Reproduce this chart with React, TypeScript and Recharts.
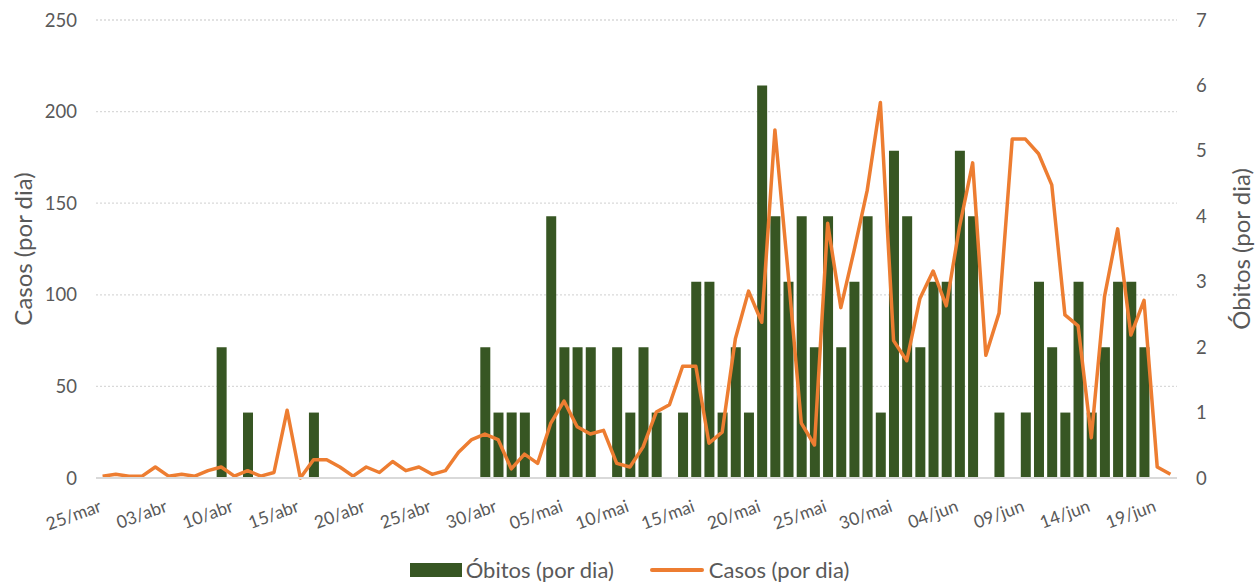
import { Bar, CartesianGrid, ComposedChart, Legend, Line, XAxis, YAxis } from 'recharts';

const dates = [
  '25/mar', '27/mar', '29/mar', '31/mar', '01/abr', '03/abr', '05/abr', '06/abr', '07/abr', '09/abr',
  '10/abr', '11/abr', '12/abr', '13/abr', '14/abr', '15/abr', '16/abr', '17/abr', '18/abr', '19/abr',
  '20/abr', '21/abr', '22/abr', '23/abr', '24/abr', '25/abr', '26/abr', '27/abr', '28/abr', '29/abr',
  '30/abr', '01/mai', '02/mai', '03/mai', '04/mai', '05/mai', '06/mai', '07/mai', '08/mai', '09/mai',
  '10/mai', '11/mai', '12/mai', '13/mai', '14/mai', '15/mai', '16/mai', '17/mai', '18/mai', '19/mai',
  '20/mai', '21/mai', '22/mai', '23/mai', '24/mai', '25/mai', '26/mai', '27/mai', '28/mai', '29/mai',
  '30/mai', '31/mai', '01/jun', '02/jun', '03/jun', '04/jun', '05/jun', '06/jun', '07/jun', '08/jun',
  '09/jun', '10/jun', '11/jun', '12/jun', '13/jun', '14/jun', '15/jun', '16/jun', '17/jun', '18/jun',
  '19/jun', '20/jun'
];

const obitos = [
  0, 0, 0, 0, 0, 0, 0, 0, 0, 2,
  0, 1, 0, 0, 0, 0, 1, 0, 0, 0,
  0, 0, 0, 0, 0, 0, 0, 0, 0, 2,
  1, 1, 1, 0, 4, 2, 2, 2, 0, 2,
  1, 2, 1, 0, 1, 3, 3, 1, 2, 1,
  6, 4, 3, 4, 2, 4, 2, 3, 4, 1,
  5, 4, 2, 3, 3, 5, 4, 0, 1, 0,
  1, 3, 2, 1, 3, 1, 2, 3, 3, 2,
  0, 0
];

const casos = [
  1, 2, 1, 1, 6, 1, 2, 1, 4, 6,
  1, 4, 1, 3, 37, 0, 10, 10, 6, 1,
  6, 3, 9, 4, 6, 2, 4, 14, 21, 24,
  21, 5, 13, 8, 30, 42, 28, 24, 26, 8,
  6, 17, 36, 40, 61, 61, 19, 25, 76, 102,
  85, 190, 112, 30, 18, 139, 93, 124, 157, 205,
  75, 64, 98, 113, 94, 137, 172, 67, 90, 185,
  185, 177, 160, 89, 83, 22, 99, 136, 78, 97,
  6, 2
];

const leftTicks = [0, 50, 100, 150, 200, 250];
const rightTicks = [0, 1, 2, 3, 4, 5, 6, 7];

const GREEN = '#375623';
const ORANGE = '#ED7D31';
const TEXT = '#595959';
const FONT = 'Lato, "Open Sans", sans-serif';

const data = dates.map((date, i) => ({ date, obitos: obitos[i], casos: casos[i] }));

function DateTick({ x, y, payload }: any) {
  return (
    <text
      x={x}
      y={y}
      transform={`rotate(-20 ${x} ${y})`}
      textAnchor='end'
      fill={TEXT}
      fontSize={17.5}
      fontFamily={FONT}
    >
      {payload.value}
    </text>
  );
}

function AxisTitle({ viewBox, value, dx }: any) {
  const cx = viewBox.x + dx;
  const cy = viewBox.y + viewBox.height / 2;
  return (
    <text
      x={cx}
      y={cy}
      transform={`rotate(-90 ${cx} ${cy})`}
      textAnchor='middle'
      dominantBaseline='central'
      fill={TEXT}
      fontSize={24}
      fontFamily={FONT}
    >
      {value}
    </text>
  );
}

function ChartLegend() {
  return (
    <div
      style={{
        display: 'flex',
        justifyContent: 'center',
        alignItems: 'center',
        height: 42,
        paddingTop: 18,
        boxSizing: 'border-box',
        fontFamily: FONT,
        fontSize: 22,
        color: TEXT,
        lineHeight: '24px'
      }}
    >
      <span style={{ display: 'inline-block', width: 52, height: 14, background: GREEN, marginRight: 4 }} />
      <span>Óbitos (por dia)</span>
      <span
        style={{
          display: 'inline-block',
          width: 54,
          height: 4,
          borderRadius: 2,
          background: ORANGE,
          marginLeft: 36,
          marginRight: 5
        }}
      />
      <span>Casos (por dia)</span>
    </div>
  );
}

function App() {
  return (
    <div style={{ position: 'absolute', left: 0, top: 0 }}>
      <ComposedChart
        width={1259}
        height={582}
        data={data}
        margin={{ top: 20, right: 0, bottom: 0, left: 0 }}
      >
        <CartesianGrid
          yAxisId='left'
          vertical={false}
          stroke='#d9d9d9'
          strokeDasharray='2 2'
          strokeWidth={1.3}
        />
        <XAxis
          dataKey='date'
          interval={4}
          height={62}
          tickLine={false}
          tickSize={0}
          tickMargin={33}
          axisLine={{ stroke: '#d9d9d9', strokeWidth: 2 }}
          tick={<DateTick />}
        />
        <YAxis
          yAxisId='left'
          width={96}
          domain={[0, 250]}
          ticks={leftTicks}
          axisLine={false}
          tickLine={false}
          tickSize={0}
          tickMargin={19}
          tick={{ fill: TEXT, fontSize: 18.5, fontFamily: FONT }}
          label={(props: any) => <AxisTitle {...props} value='Casos (por dia)' dx={22} />}
        />
        <YAxis
          yAxisId='right'
          orientation='right'
          width={82}
          domain={[0, 7]}
          ticks={rightTicks}
          axisLine={false}
          tickLine={false}
          tickSize={0}
          tickMargin={19}
          tick={{ fill: TEXT, fontSize: 18.5, fontFamily: FONT }}
          label={(props: any) => <AxisTitle {...props} value='Óbitos (por dia)' dx={63} />}
        />
        <Bar
          yAxisId='right'
          dataKey='obitos'
          name='Óbitos (por dia)'
          fill={GREEN}
          barSize={10}
          isAnimationActive={false}
        />
        <Line
          yAxisId='left'
          type='linear'
          dataKey='casos'
          name='Casos (por dia)'
          stroke={ORANGE}
          strokeWidth={3.5}
          strokeLinejoin='round'
          dot={false}
          activeDot={false}
          isAnimationActive={false}
        />
        <Legend verticalAlign='bottom' height={42} content={<ChartLegend />} />
      </ComposedChart>
    </div>
  );
}

export default App;
